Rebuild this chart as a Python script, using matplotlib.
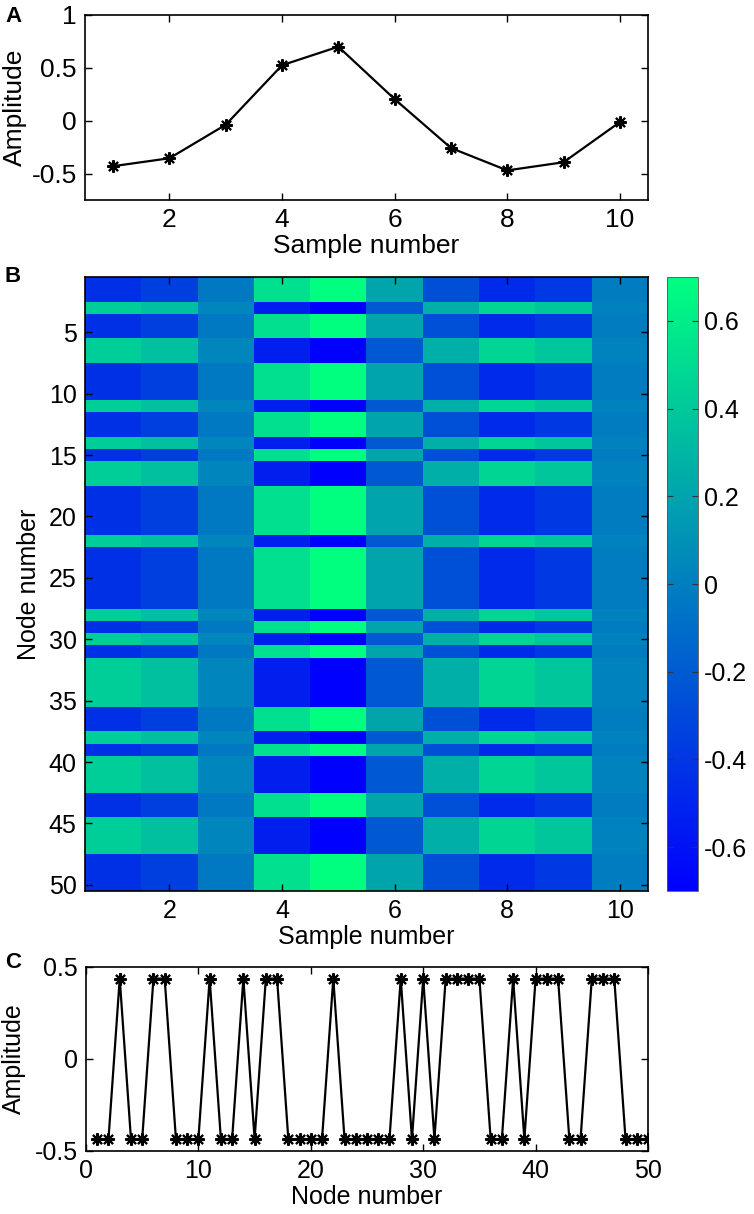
import numpy as np
import matplotlib
matplotlib.use("Agg")
import matplotlib.pyplot as plt

plt.rcParams['font.family'] = ['Liberation Sans', 'DejaVu Sans']
plt.rcParams['axes.unicode_minus'] = False

# ---- data ----
samples = np.arange(1, 11)
sample_amp = [-0.43, -0.355, -0.038, 0.525, 0.70, 0.204, -0.258, -0.47, -0.393, -0.013]

nodes = np.arange(1, 51)
# L = low (-0.435), H = high (+0.437)
node_pattern = ("LLHLLHHLLL" "HLLHLHHLLL" "LHLLLLLHLH" "LHHHHLLHLH" "HHLLHHHLLL")
node_low, node_high = -0.435, 0.437
node_amp = [node_high if c == 'H' else node_low for c in node_pattern]

# heatmap: each node row is the sample signal, flipped for "high" nodes
node_sign = np.array([-1.0 if c == 'H' else 1.0 for c in node_pattern])
heat = node_sign[:, None] * np.array(sample_amp)[None, :]

W, H = 754, 1214
fig = plt.figure(figsize=(W / 100, H / 100), dpi=100)

FS = 18
FS_A = 19
LW_AX = 1.2


def style(ax, fs=FS):
    for s in ax.spines.values():
        s.set_linewidth(LW_AX)
    ax.tick_params(direction='in', length=5, width=1.0, top=True, right=True,
                   labelsize=fs, pad=6)


def fpos(left, top, right, bottom):
    return [left / W, 1 - bottom / H, (right - left) / W, (bottom - top) / H]


mk = (8, 2, 0)

# ---- Panel A ----
axA = fig.add_axes(fpos(85, 15, 648, 200))
axA.plot(samples, sample_amp, color='black', lw=1.6, marker=mk, ms=9, mew=1.5)
axA.set_xlim(0.5, 10.5)
axA.set_ylim(-0.75, 1)
axA.set_xticks([2, 4, 6, 8, 10])
axA.set_yticks([-0.5, 0, 0.5, 1])
axA.set_yticklabels(['-0.5', '0', '0.5', '1'])
axA.set_xlabel('Sample number', fontsize=FS_A, labelpad=1)
axA.set_ylabel('Amplitude', fontsize=FS_A)
axA.yaxis.set_label_coords((27 - 85) / 563, 0.5)
style(axA, FS_A)

# ---- Panel B ----
axB = fig.add_axes(fpos(85, 277, 648, 891))
im = axB.imshow(heat, cmap='winter', aspect='auto', interpolation='nearest',
                extent=(0.5, 10.5, 50.5, 0.5), vmin=-0.70, vmax=0.70)
axB.set_xticks([2, 4, 6, 8, 10])
axB.set_yticks(np.arange(5, 51, 5))
axB.set_xlabel('Sample number', fontsize=FS, labelpad=1)
axB.set_ylabel('Node number', fontsize=FS)
axB.yaxis.set_label_coords((41 - 85) / 563, 0.5)
style(axB)

cax = fig.add_axes(fpos(667, 277, 698, 891))
cb = fig.colorbar(im, cax=cax, ticks=[-0.6, -0.4, -0.2, 0, 0.2, 0.4, 0.6])
cb.ax.set_yticklabels(['-0.6', '-0.4', '-0.2', '0', '0.2', '0.4', '0.6'])
cb.outline.set_linewidth(0.6)
cb.outline.set_edgecolor('#555555')
cax.tick_params(direction='in', length=4, width=0.8, left=True, right=True,
                labelsize=FS, pad=4, color='#333333')

# ---- Panel C ----
axC = fig.add_axes(fpos(86, 967, 648, 1151))
axC.plot(nodes, node_amp, color='black', lw=1.6, marker=mk, ms=9, mew=1.5)
axC.set_xlim(0, 50)
axC.set_ylim(-0.5, 0.5)
axC.set_xticks([0, 10, 20, 30, 40, 50])
axC.set_yticks([-0.5, 0, 0.5])
axC.set_yticklabels(['-0.5', '0', '0.5'])
axC.set_xlabel('Node number', fontsize=FS, labelpad=1)
axC.set_ylabel('Amplitude', fontsize=FS)
axC.yaxis.set_label_coords((26 - 86) / 562, 0.5)
style(axC)

# panel letters
fig.text(5 / W, 1 - 22 / H, 'A', fontsize=16, fontweight='bold')
fig.text(5 / W, 1 - 282 / H, 'B', fontsize=16, fontweight='bold')
fig.text(5 / W, 1 - 968 / H, 'C', fontsize=16, fontweight='bold')

fig.savefig('out.png', dpi=100)
